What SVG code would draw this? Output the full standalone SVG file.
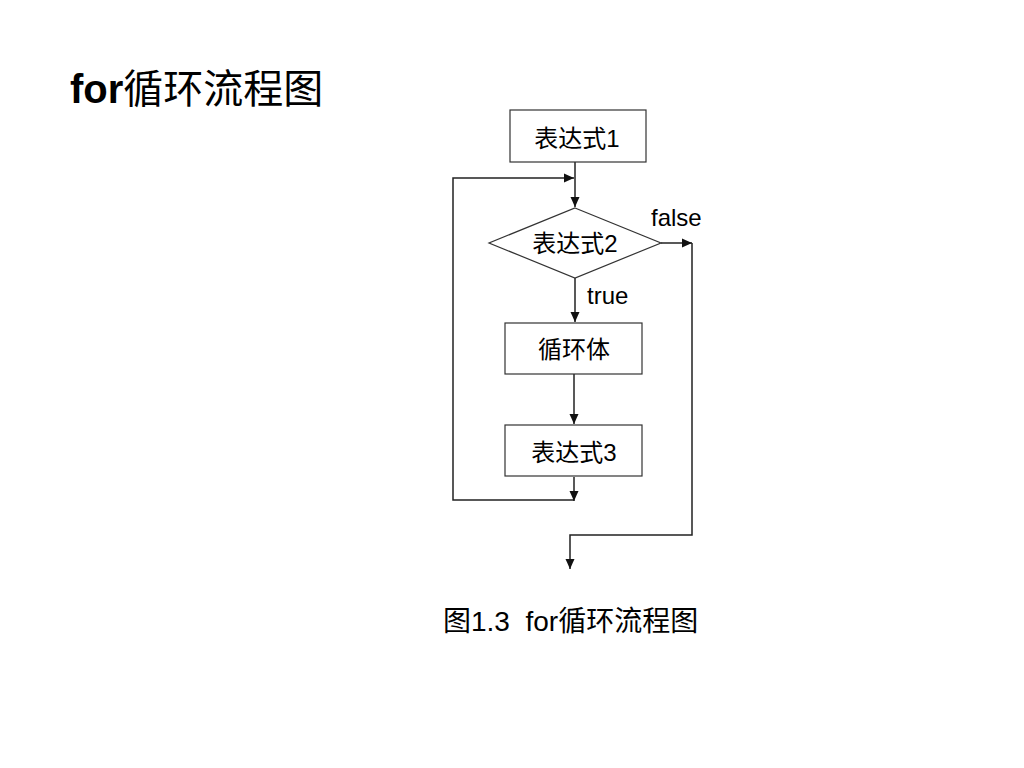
<svg xmlns="http://www.w3.org/2000/svg" width="1024" height="768" viewBox="0 0 1024 768">
<style>
.t{font-family:"Liberation Sans","Noto Sans CJK SC",sans-serif;fill:#000}
.box{fill:#fff;stroke:#333;stroke-width:1.2}
.ln{fill:none;stroke:#222;stroke-width:1.5}
</style>
<defs>
<marker id="ah" viewBox="0 0 10 10" refX="10" refY="5" markerWidth="11" markerHeight="10" markerUnits="userSpaceOnUse" orient="auto">
<path d="M0,0.5 L10,5 L0,9.5 Z" fill="#111"/>
</marker>
</defs>
<rect width="1024" height="768" fill="#fff"/>
<text class="t" x="70" y="103" font-size="40"><tspan font-weight="bold">for</tspan>循环流程图</text>
<g id="connectors">
<line class="ln" x1="575" y1="162" x2="575" y2="207" marker-end="url(#ah)"/>
<polyline class="ln" points="574,500 453,500 453,178 574,178" marker-end="url(#ah)"/>
<line class="ln" x1="574" y1="477" x2="574" y2="501" marker-end="url(#ah)"/>
<line class="ln" x1="661" y1="243" x2="692" y2="243" marker-end="url(#ah)"/>
<polyline class="ln" points="692,243 692,535 570,535 570,569" marker-end="url(#ah)"/>
<line class="ln" x1="575" y1="278" x2="575" y2="322" marker-end="url(#ah)"/>
<line class="ln" x1="574" y1="374" x2="574" y2="424" marker-end="url(#ah)"/>
</g>
<g id="expr1">
<rect class="box" x="510" y="110" width="136" height="52"/>
<text class="t" x="577" y="147" font-size="24" text-anchor="middle">表达式1</text>
</g>
<g id="expr2">
<polygon class="box" points="575,208 661,243 575,278 489,243"/>
<text class="t" x="575" y="252" font-size="24" text-anchor="middle">表达式2</text>
</g>
<g id="body">
<rect class="box" x="505" y="323" width="137" height="51"/>
<text class="t" x="574" y="358" font-size="24" text-anchor="middle">循环体</text>
</g>
<g id="expr3">
<rect class="box" x="505" y="425" width="137" height="51"/>
<text class="t" x="574" y="461" font-size="24" text-anchor="middle">表达式3</text>
</g>
<text class="t" x="651" y="226" font-size="24">false</text>
<text class="t" x="587" y="304" font-size="24">true</text>
<text class="t" x="443" y="631" font-size="28">图1.3&#160; for循环流程图</text>
</svg>
